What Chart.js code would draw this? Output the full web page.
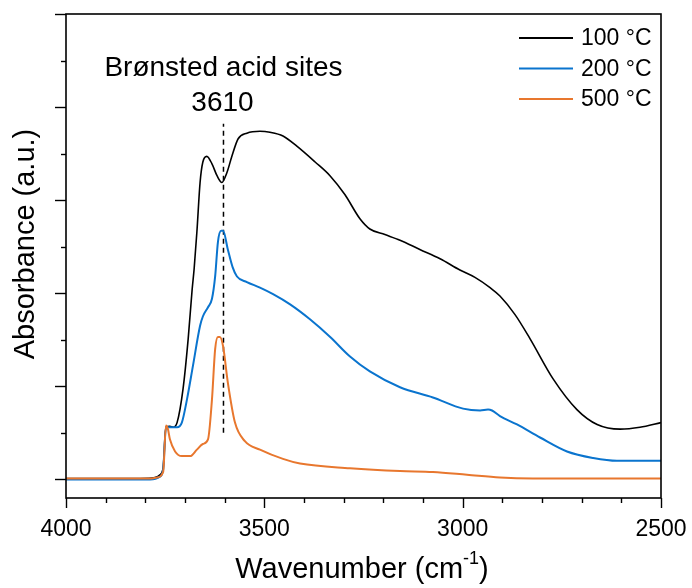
<!DOCTYPE html>
<html>
<head>
<meta charset="utf-8">
<script src="https://cdn.jsdelivr.net/npm/chart.js@4"></script>
<style>
html,body{margin:0;padding:0;background:#fff;}
#wrap{width:692px;height:588px;}
</style>
</head>
<body>
<div id="wrap"><canvas id="c" width="692" height="588"></canvas></div>
<script>
// ---- data (wavenumber in cm-1, absorbance in a.u.) ----
const seriesNames = ["100 °C", "200 °C", "500 °C"];
const wn100 = [4000,3813,3776,3763,3755,3748,3738,3730,3720,3705,3692,3682,3677,3670,3662,3655,3645,3632,3619,3607,3594,3582,3566,3544,3511,3486,3453,3418,3372,3334,3297,3259,3234,3196,3158,3108,3057,3007,2969,2931,2906,2868,2830,2772,2712,2661,2603,2553,2500];
const abs100 = [0.01,0.01,0.02,0.05,0.13,0.56,0.57,0.56,0.61,0.97,1.51,2.04,2.26,2.66,3.19,3.41,3.47,3.39,3.26,3.19,3.30,3.47,3.66,3.72,3.74,3.73,3.69,3.58,3.41,3.26,3.06,2.80,2.69,2.63,2.57,2.47,2.37,2.25,2.17,2.06,1.97,1.77,1.51,1.08,0.75,0.59,0.54,0.56,0.61];
const wn200 = [4000,3788,3763,3755,3748,3738,3720,3708,3695,3680,3662,3655,3642,3632,3624,3617,3609,3604,3592,3580,3569,3544,3511,3478,3435,3385,3334,3284,3234,3158,3075,2999,2956,2936,2926,2906,2863,2805,2737,2671,2611,2500];
const abs200 = [0,0,0.03,0.11,0.56,0.56,0.56,0.61,0.86,1.22,1.65,1.75,1.85,1.94,2.18,2.55,2.67,2.67,2.47,2.28,2.18,2.12,2.06,1.99,1.88,1.72,1.53,1.32,1.16,0.99,0.88,0.76,0.74,0.75,0.74,0.68,0.59,0.45,0.30,0.23,0.20,0.20];
const wn500 = [4000,3788,3771,3755,3748,3743,3738,3725,3708,3687,3670,3655,3642,3632,3624,3617,3612,3604,3592,3574,3549,3511,3453,3410,3284,3158,3075,2989,2906,2823,2500];
const abs500 = [0.01,0.01,0.02,0.08,0.58,0.54,0.43,0.30,0.25,0.25,0.32,0.38,0.43,0.86,1.40,1.53,1.53,1.43,1.04,0.61,0.41,0.32,0.22,0.17,0.12,0.09,0.08,0.05,0.02,0.01,0.01];
const markerWn = [3603, 3603];
const markerAbs = [0.50, 3.82];
const xTickLabels = [4000, 3500, 3000, 2500];
const annotationTitle = "Brønsted acid sites";
const annotationPeak = "3610";
const colors = ["#000000", "#0A74CE", "#E8772E"];

const toPts = (xs, ys) => xs.map((x, i) => ({x: x, y: ys[i]}));
const FONT = "'Liberation Sans', Arial, sans-serif";

const decor = {
  id: 'decor',
  afterDraw(chart) {
    const ctx = chart.ctx, a = chart.chartArea;
    const xs = chart.scales.x, ys = chart.scales.y;
    ctx.save();
    // frame
    ctx.strokeStyle = '#000'; ctx.lineWidth = 1.6;
    ctx.strokeRect(a.left, a.top, a.right - a.left, a.bottom - a.top);
    // x ticks (outward)
    ctx.lineWidth = 1.4;
    for (let v = 2500; v <= 4000; v += 100) {
      const px = Math.round(xs.getPixelForValue(v)) + 0.5;
      const len = (v % 500 === 0) ? 10 : 5;
      ctx.beginPath(); ctx.moveTo(px, a.bottom); ctx.lineTo(px, a.bottom + len); ctx.stroke();
    }
    // y ticks (outward)
    for (let v = 0; v <= 5.001; v += 0.5) {
      const py = Math.round(ys.getPixelForValue(v)) + 0.5;
      const major = Math.abs(v - Math.round(v)) < 1e-6;
      const len = major ? 11 : 5;
      ctx.beginPath(); ctx.moveTo(a.left, py); ctx.lineTo(a.left - len, py); ctx.stroke();
    }
    // annotation text
    ctx.fillStyle = '#000';
    ctx.textAlign = 'center'; ctx.textBaseline = 'middle';
    ctx.font = '28px ' + FONT;
    const mx = xs.getPixelForValue(markerWn[0]);
    ctx.fillText(annotationTitle, mx, 68);
    ctx.fillText(annotationPeak, mx - 1, 103);
    // legend
    ctx.font = '23px ' + FONT;
    ctx.textAlign = 'left';
    seriesNames.forEach((n, i) => {
      const y = 38 + i * 30.5;
      ctx.strokeStyle = colors[i]; ctx.lineWidth = 2;
      ctx.beginPath(); ctx.moveTo(519, y); ctx.lineTo(573, y); ctx.stroke();
      ctx.fillText(n, 581, y + 1);
    });
    // axis titles
    const TF = '29px ' + FONT, SF = '18px ' + FONT;
    ctx.font = TF;
    const t1 = 'Wavenumber (cm', sup = '-1', t2 = ')';
    const w1 = ctx.measureText(t1).width;
    ctx.font = SF;
    const ws = ctx.measureText(sup).width;
    ctx.font = TF;
    const w2 = ctx.measureText(t2).width;
    const total = w1 + ws + w2;
    let sx = 362 - total / 2;
    const ty = 570;
    ctx.textAlign = 'left';
    ctx.fillText(t1, sx, ty);
    ctx.font = SF;
    ctx.fillText(sup, sx + w1, ty - 11);
    ctx.font = TF;
    ctx.fillText(t2, sx + w1 + ws, ty);
    // y title
    ctx.translate(26, 244);
    ctx.rotate(-Math.PI / 2);
    ctx.textAlign = 'center';
    ctx.fillText('Absorbance (a.u.)', 0, 0);
    ctx.restore();
  }
};

const ds = (label, xs, ys, color, w) => ({
  label: label, data: toPts(xs, ys), borderColor: color, backgroundColor: color,
  borderWidth: w, pointRadius: 0, fill: false, cubicInterpolationMode: 'monotone'
});

new Chart(document.getElementById('c'), {
  type: 'line',
  data: {
    datasets: [
      ds(seriesNames[2], wn500, abs500, colors[2], 2),
      ds(seriesNames[1], wn200, abs200, colors[1], 2),
      ds(seriesNames[0], wn100, abs100, colors[0], 1.6),
      Object.assign(ds('marker', markerWn, markerAbs, '#000', 1.5), {borderDash: [5, 4], cubicInterpolationMode: 'default', tension: 0})
    ]
  },
  options: {
    responsive: false,
    animation: false,
    events: [],
    layout: {padding: {top: 14, right: 31, left: 0, bottom: 0}},
    plugins: {legend: {display: false}, tooltip: {enabled: false}},
    scales: {
      x: {
        type: 'linear', reverse: true, min: 2500, max: 4000,
        grid: {display: true, drawOnChartArea: false, drawTicks: true, tickLength: 0, color: 'rgba(0,0,0,0)'},
        border: {display: false},
        ticks: {
          stepSize: 100, autoSkip: false, maxRotation: 0, padding: 18,
          color: '#000', font: {family: FONT, size: 23},
          callback: v => (xTickLabels.includes(v) ? String(v) : '')
        },
        afterFit: s => { s.height = 90; s.paddingLeft = 0; s.paddingRight = 0; }
      },
      y: {
        min: -0.2, max: 5,
        grid: {display: false},
        border: {display: false},
        ticks: {display: false},
        afterFit: s => { s.width = 66; }
      }
    }
  },
  plugins: [decor]
});
</script>
</body>
</html>
